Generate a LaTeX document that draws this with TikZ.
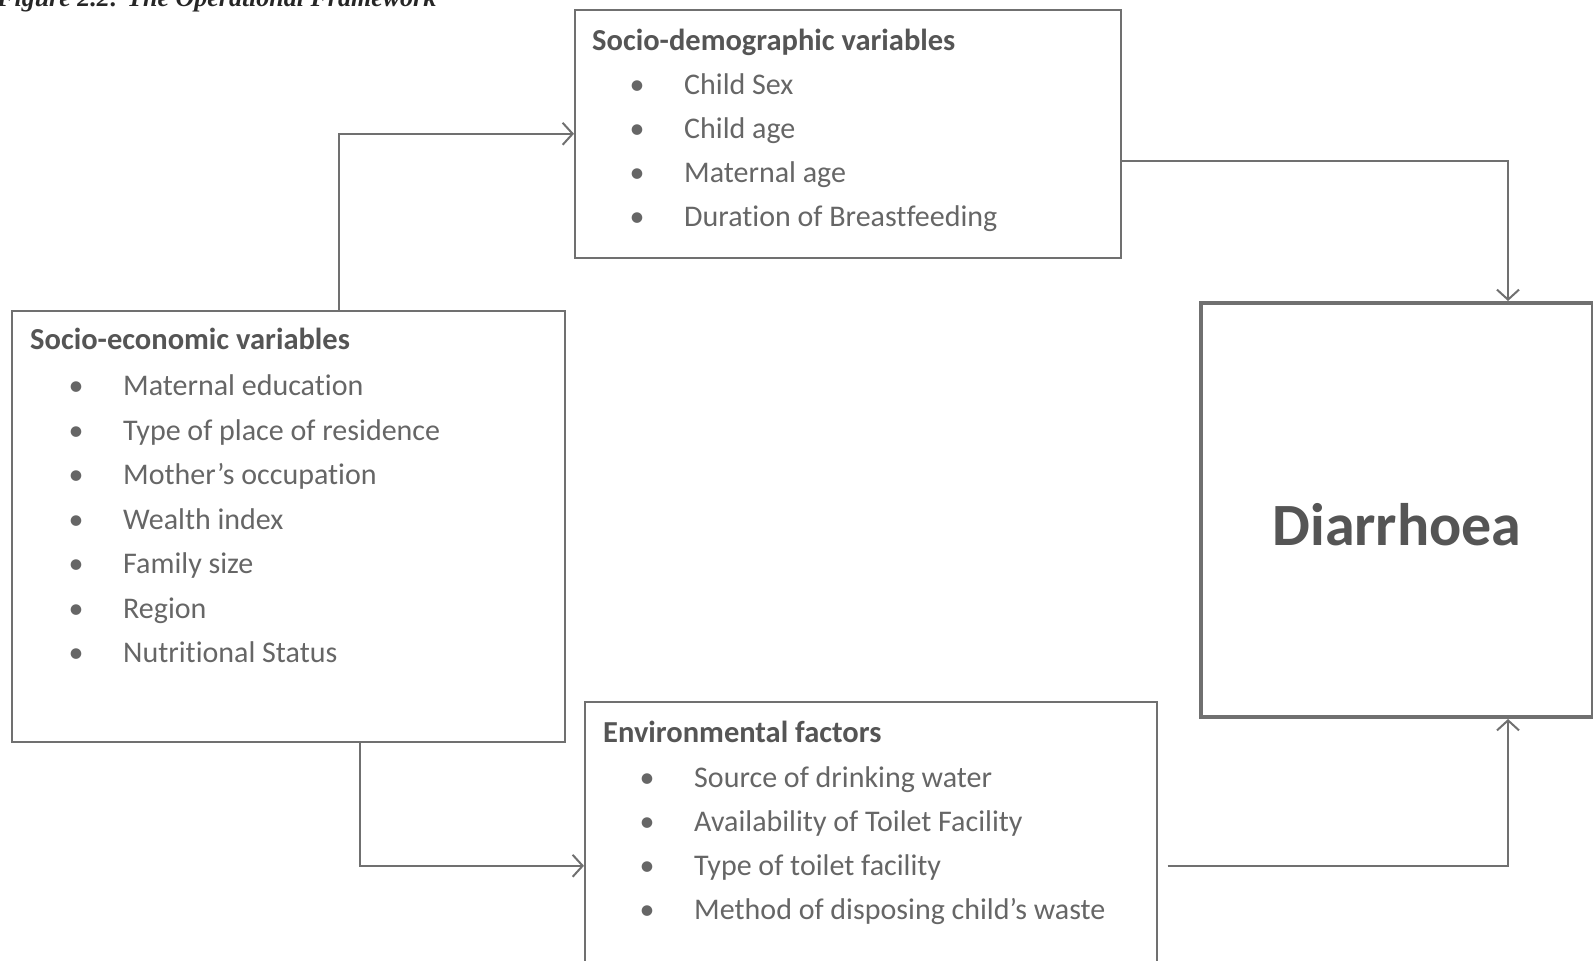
\documentclass[tikz,border=0pt]{standalone}
\usepackage{fontspec}
\setmainfont[RawFeature={-liga;-clig;-dlig;-calt}]{Carlito}
\newfontfamily\capfont{Liberation Serif}
\usetikzlibrary{arrows.meta}
\definecolor{linecol}{HTML}{707070}
\definecolor{txtcol}{HTML}{666666}
\definecolor{headcol}{HTML}{555555}
\tikzset{
  box/.style={draw=linecol, line width=1.6pt, anchor=north west, inner sep=0pt, fill=none},
  bigbox/.style={draw=linecol, line width=4pt, anchor=north west, inner sep=0pt},
  item/.style={anchor=west, inner sep=0pt, text=txtcol, font=\fontsize{30}{36}\selectfont, text height=21pt, text depth=6pt},
  head/.style={item, text=headcol, font=\bfseries\fontsize{30.5}{36}\selectfont},
  bul/.style={anchor=center, inner sep=0pt, text=txtcol, font=\fontsize{30}{36}\selectfont, text height=21pt, text depth=6pt},
  conn/.style={draw=linecol, line width=2pt, -{Straight Barb[length=10pt, width=22pt, line width=2pt]}},
}
\begin{document}
\begin{tikzpicture}[x=1pt, y=-1pt]
\useasboundingbox (0,0) rectangle (1593,961);
\clip (0,0) rectangle (1593,961);
% caption (cut off at top)
\node[anchor=base west, inner sep=0pt, font=\capfont\bfseries\itshape\fontsize{26}{30}\selectfont, text=black!85] (cap) at (-3,6) {Figure 2.2: The Operational Framework};
% boxes
\node[box, minimum width=546pt, minimum height=248pt] (sd) at (574,9) {};
\node[box, minimum width=553pt, minimum height=431pt] (se) at (11,310) {};
\node[box, minimum width=572pt, minimum height=304pt] (env) at (584,701) {};
\node[bigbox, minimum width=392pt, minimum height=414pt] (dia) at (1199,301) {};
% socio-demographic
\node[head] (sdh) at (592,43) {Socio-demographic variables};
\foreach \t [count=\i] in {Child Sex, Child age, Maternal age, Duration of Breastfeeding}{
  \node[bul] (sdb\i) at (637,{87+44*(\i-1)}) {•};
  \node[item] (sdi\i) at (684,{87+44*(\i-1)}) {\t};
}
% socio-economic
\node[head] (seh) at (30,342) {Socio-economic variables};
\foreach \t [count=\i] in {Maternal education, Type of place of residence, Mother’s occupation, Wealth index, Family size, Region, Nutritional Status}{
  \node[bul] (seb\i) at (76,{388+44.5*(\i-1)}) {•};
  \node[item] (sei\i) at (123,{388+44.5*(\i-1)}) {\t};
}
% environmental
\node[head] (envh) at (603,735) {Environmental factors};
\foreach \t [count=\i] in {Source of drinking water, Availability of Toilet Facility, Type of toilet facility, Method of disposing child’s waste}{
  \node[bul] (envb\i) at (647,{780+44*(\i-1)}) {•};
  \node[item] (envi\i) at (694,{780+44*(\i-1)}) {\t};
}
% outcome
\node[anchor=base, inner sep=0pt, text=headcol, font=\bfseries\fontsize{60}{72}\selectfont] (diat) at (1397,545) {Diarrhoea};
% connectors
\draw[conn] ([xshift=50.5pt]se.north) |- (sd.west);
\draw[conn] ([yshift=-27pt]sd.east) -| ([xshift=111pt]dia.north);
\draw[conn] ([xshift=71.5pt]se.south) |- ([yshift=-12pt]env.west);
\draw[conn] ([xshift=10pt,yshift=-12pt]env.east) -| ([xshift=111pt]dia.south);
\end{tikzpicture}
\end{document}
